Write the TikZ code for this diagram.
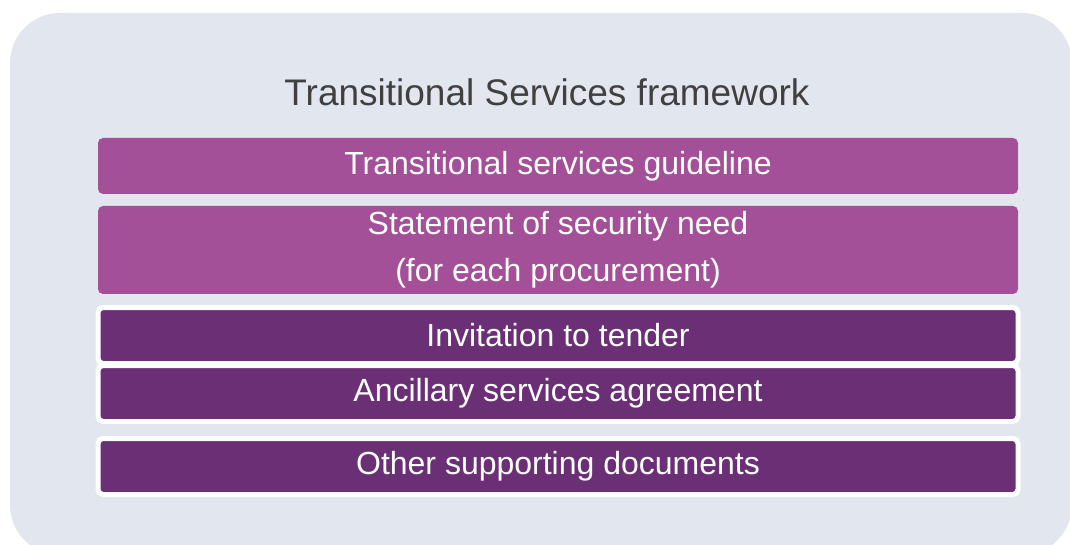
\documentclass[tikz,border=0pt]{standalone}
\usepackage{fontspec}
\setmainfont{Liberation Sans}
\usetikzlibrary{
  positioning
}
\definecolor{panelgrey}{HTML}{E1E6EF}
\definecolor{lightplum}{HTML}{A35098}
\definecolor{darkplum}{HTML}{6A2F75}
\definecolor{titlegrey}{HTML}{404040}
\tikzset{
%
  % For the panel behind everything.
  panel/.style={
    fill=panelgrey,
    rounded corners=50pt},
%
  % For the heading.
  heading/.style={
    text=titlegrey,
    font=\fontsize{37}{44}\selectfont},
%
  % For boxes in general.
  box/.style={
    minimum width=920pt,
    minimum height=56pt,
    inner sep=0pt,
    outer sep=0pt,
    rounded corners=5pt,
    text=white,
    align=center,
    font=\fontsize{32}{47}\selectfont},
%
  % For the light boxes.
  light box/.style={
    box,
    fill=lightplum},
%
  % For the dark boxes with a white rim.
  dark box/.style={
    box,
    fill=darkplum,
    draw=white,
    line width=5pt}
}

\begin{document}
\begin{tikzpicture}
  \useasboundingbox (0,0) rectangle (1070pt,544pt);
  \fill[panel] (10pt,-11pt) rectangle (1072pt,531pt);

  \node[heading, anchor=base] (title) at (547pt,438pt) {Transitional Services framework};

  \node[light box] (guide) at (558pt,378pt) {Transitional services guideline};
  \node[light box, minimum height=88pt] (need) [below=12pt of guide]
    {Statement of security need\\(for each procurement)};
  \node[dark box] (tender) [below=13.5pt of need] {Invitation to tender};
  \node[dark box] (ancillary) [below=2pt of tender] {Ancillary services agreement};
  \node[dark box] (other) [below=17pt of ancillary] {Other supporting documents};
\end{tikzpicture}
\end{document}
